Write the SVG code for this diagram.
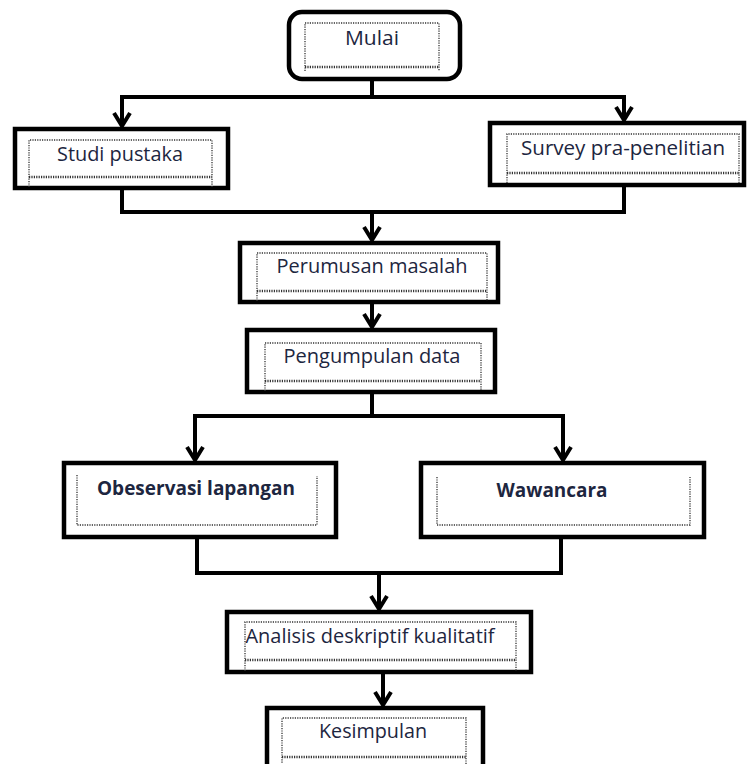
<svg xmlns="http://www.w3.org/2000/svg" width="747" height="764" viewBox="0 0 747 764">
<defs>
<style>
.box{fill:#ffffff;stroke:#000000;stroke-width:4.5}
.dot{fill:none;stroke:#333333;stroke-width:1.3;stroke-dasharray:1.2 1.2}
.dbl{fill:none;stroke:#333333;stroke-width:2.6;stroke-dasharray:1.2 1.2}
.t{font-family:"Open Sans","Noto Sans","Liberation Sans",sans-serif;font-size:20px;fill:#1d2640;text-anchor:middle}
.b{font-weight:bold}
.c{fill:none;stroke:#000000;stroke-width:4}
</style>
<marker id="ah" markerUnits="userSpaceOnUse" viewBox="-16 -10 18 20" refX="0" refY="0" markerWidth="18" markerHeight="20" orient="auto">
<path d="M -13 -8 L 0 0 L -13 8" fill="none" stroke="#000000" stroke-width="4"/>
</marker>
</defs>
<rect width="747" height="764" fill="#ffffff"/>

<g id="connectors">
<path class="c" d="M 372 81 V 97 M 120 97 H 626"/>
<path class="c" d="M 122 97 V 126" marker-end="url(#ah)"/>
<path class="c" d="M 624 97 V 120" marker-end="url(#ah)"/>
<path class="c" d="M 122 190 V 212 H 624 V 187"/>
<path class="c" d="M 372 212 V 240" marker-end="url(#ah)"/>
<path class="c" d="M 372 304 V 327" marker-end="url(#ah)"/>
<path class="c" d="M 372 394 V 416 M 193 416 H 565"/>
<path class="c" d="M 195 416 V 460" marker-end="url(#ah)"/>
<path class="c" d="M 563 416 V 460" marker-end="url(#ah)"/>
<path class="c" d="M 197 539 V 573 H 561 V 539"/>
<path class="c" d="M 379 573 V 609" marker-end="url(#ah)"/>
<path class="c" d="M 383 674 V 705" marker-end="url(#ah)"/>
</g>

<g id="mulai">
<rect class="box" x="289" y="12" width="171" height="67" rx="13"/>
<path class="dot" d="M 305 71 V 23 H 439 V 71"/>
<path class="dbl" d="M 305 67 H 439"/>
<text class="t" x="372" y="45" textLength="54" lengthAdjust="spacingAndGlyphs">Mulai</text>
</g>

<g id="studi-pustaka">
<rect class="box" x="15" y="129" width="213" height="59"/>
<path class="dot" d="M 29 187 V 140 H 212 V 187"/>
<path class="dbl" d="M 29 177 H 212"/>
<text class="t" x="120" y="161" textLength="126" lengthAdjust="spacingAndGlyphs">Studi pustaka</text>
</g>

<g id="survey">
<rect class="box" x="490" y="123" width="254" height="62"/>
<path class="dot" d="M 507 183 V 134 H 739 V 183"/>
<path class="dbl" d="M 507 173 H 739"/>
<text class="t" x="623" y="155" textLength="204" lengthAdjust="spacingAndGlyphs">Survey pra-penelitian</text>
</g>

<g id="perumusan">
<rect class="box" x="240" y="243" width="258" height="59"/>
<path class="dot" d="M 257 301 V 253 H 487 V 301"/>
<path class="dbl" d="M 257 291 H 487"/>
<text class="t" x="372" y="273" textLength="191" lengthAdjust="spacingAndGlyphs">Perumusan masalah</text>
</g>

<g id="pengumpulan">
<rect class="box" x="247" y="330" width="248" height="62"/>
<path class="dot" d="M 265 391 V 343 H 481 V 391"/>
<path class="dbl" d="M 265 381 H 481"/>
<text class="t" x="372" y="363" textLength="177" lengthAdjust="spacingAndGlyphs">Pengumpulan data</text>
</g>

<g id="observasi">
<rect class="box" x="64" y="463" width="272" height="74"/>
<path class="dot" d="M 77 475 V 525 H 317 V 476"/>
<text class="t b" x="196" y="495" textLength="198" lengthAdjust="spacingAndGlyphs">Obeservasi lapangan</text>
</g>

<g id="wawancara">
<rect class="box" x="421" y="463" width="283" height="74"/>
<path class="dot" d="M 437 477 V 525 H 690 V 477"/>
<text class="t b" x="552" y="497" textLength="111" lengthAdjust="spacingAndGlyphs">Wawancara</text>
</g>

<g id="analisis">
<rect class="box" x="227" y="612" width="304" height="60"/>
<path class="dot" d="M 245 671 V 622 H 516 V 671"/>
<path class="dbl" d="M 245 660 H 516"/>
<text class="t" x="370" y="643" textLength="249" lengthAdjust="spacingAndGlyphs">Analisis deskriptif kualitatif</text>
</g>

<g id="kesimpulan">
<rect class="box" x="267" y="708" width="216" height="80"/>
<path class="dot" d="M 282 770 V 718 H 466 V 770"/>
<path class="dbl" d="M 282 757 H 466"/>
<text class="t" x="373" y="738" textLength="108" lengthAdjust="spacingAndGlyphs">Kesimpulan</text>
</g>
</svg>
